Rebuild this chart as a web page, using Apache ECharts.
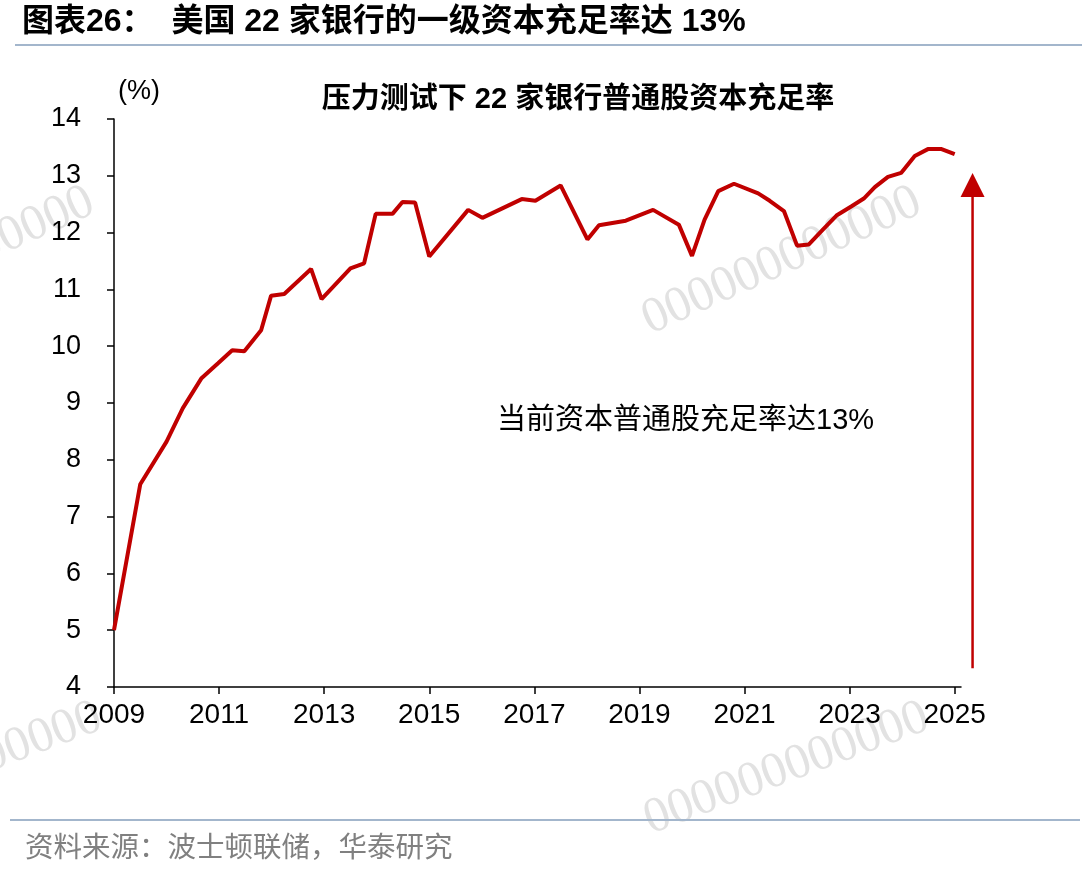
<!DOCTYPE html>
<html>
<head>
<meta charset="utf-8">
<script src="https://cdn.jsdelivr.net/npm/echarts@6/dist/echarts.min.js"></script>
<style>
  html, body { margin: 0; padding: 0; background: #fff; }
  #chart { width: 1091px; height: 875px; }
</style>
</head>
<body>
<div id="chart"></div>
<script>
// CET1 ratio of the 22 stress-tested banks (%)
const years = [
  2009.0, 2009.5, 2010.0, 2010.31, 2010.66, 2010.98, 2011.25, 2011.48, 2011.8, 2011.99,
  2012.24, 2012.75, 2012.95, 2013.5, 2013.76, 2013.98, 2014.3, 2014.49, 2014.73, 2015.0,
  2015.74, 2016.01, 2016.76, 2017.02, 2017.5, 2018.01, 2018.23, 2018.74, 2019.26, 2019.75,
  2020.0, 2020.24, 2020.5, 2020.8, 2021.26, 2021.48, 2021.75, 2022.0, 2022.22, 2022.5,
  2022.75, 2023.03, 2023.27, 2023.48, 2023.73, 2023.98, 2024.24, 2024.49, 2024.75, 2025.0
];
const ratios = [
  5.0, 7.57, 8.32, 8.91, 9.43, 9.7, 9.93, 9.91, 10.28, 10.89,
  10.92, 11.36, 10.83, 11.37, 11.46, 12.33, 12.33, 12.54, 12.53, 11.58,
  12.4, 12.26, 12.59, 12.56, 12.83, 11.88, 12.13, 12.21, 12.4, 12.14,
  11.59, 12.23, 12.73, 12.86, 12.69, 12.56, 12.38, 11.77, 11.79, 12.06,
  12.3, 12.46, 12.6, 12.8, 12.98, 13.05, 13.35, 13.47, 13.47, 13.38
];
const yearTicks = [2009, 2011, 2013, 2015, 2017, 2019, 2021, 2023, 2025];

// the upward arrow right of the line: [year, value] for tail and tip
const arrowTail = [2025.34, 4.33];
const arrowTip = [2025.34, 13.05];

const headerText = '图表26：  美国 22 家银行的一级资本充足率达 13%';
const titleText = '压力测试下 22 家银行普通股资本充足率';
const noteText = '当前资本普通股充足率达13%';
const sourceText = '资料来源：波士顿联储，华泰研究';
const unitText = '(%)';

const RED = '#c00000';
const FONT = '"Liberation Sans", Arial, "Noto Sans CJK SC", sans-serif';

const chart = echarts.init(document.getElementById('chart'));

function watermark(x, y, rotation) {
  return {
    type: 'text',
    x: x,
    y: y,
    rotation: rotation,
    silent: true,
    style: {
      text: '000000000000',
      font: '50px "Liberation Serif", serif',
      fill: '#e2e2e2',
      verticalAlign: 'bottom'
    }
  };
}

const staticGraphics = [
  watermark(655, 345, 0.42),
  watermark(-172, 345, 0.42),
  watermark(655, 845, 0.36),
  watermark(-172, 845, 0.36),
  {
    type: 'text',
    left: 22,
    top: 6,
    style: {
      text: headerText,
      font: 'bold 32px "Liberation Sans", "Noto Sans CJK SC", sans-serif',
      fill: '#000'
    }
  },
  {
    type: 'line',
    shape: { x1: 15, y1: 45, x2: 1082, y2: 45 },
    style: { stroke: '#a3b6cc', lineWidth: 2 }
  },
  {
    type: 'text',
    x: 578,
    y: 100,
    style: {
      text: titleText,
      font: 'bold 29px "Liberation Sans", "Noto Sans CJK SC", sans-serif',
      fill: '#000',
      align: 'center',
      verticalAlign: 'middle'
    }
  },
  {
    type: 'text',
    x: 118,
    y: 92,
    style: {
      text: unitText,
      font: '27px "Liberation Sans", sans-serif',
      fill: '#000',
      verticalAlign: 'middle'
    }
  },
  {
    type: 'text',
    x: 497,
    y: 421,
    style: {
      text: noteText,
      font: '29px "Liberation Sans", "Noto Sans CJK SC", sans-serif',
      fill: '#000',
      verticalAlign: 'middle'
    }
  },
  {
    type: 'line',
    shape: { x1: 10, y1: 820, x2: 1080, y2: 820 },
    style: { stroke: '#a3b6cc', lineWidth: 2 }
  },
  {
    type: 'text',
    x: 25,
    y: 846,
    style: {
      text: sourceText,
      font: '28.5px "Noto Sans CJK SC", sans-serif',
      fill: '#808080',
      verticalAlign: 'middle'
    }
  }
];

chart.setOption({
  animation: false,
  textStyle: { fontFamily: FONT },
  grid: {
    left: 114,
    right: 130,
    top: 119,
    bottom: 188,
    outerBoundsMode: 'none'
  },
  xAxis: {
    type: 'value',
    min: 2009,
    max: 2025.12,
    axisLine: { lineStyle: { color: '#000', width: 1.5 } },
    axisTick: {
      customValues: yearTicks,
      length: 7,
      lineStyle: { color: '#000', width: 1.5 }
    },
    axisLabel: {
      customValues: yearTicks,
      formatter: (v) => String(v),
      margin: 14,
      color: '#000',
      fontSize: 28,
      fontFamily: FONT
    },
    splitLine: { show: false }
  },
  yAxis: {
    type: 'value',
    min: 4,
    max: 14,
    interval: 1,
    axisLine: { show: true, lineStyle: { color: '#000', width: 1.5 } },
    axisTick: { show: true, length: 7, lineStyle: { color: '#000', width: 1.5 } },
    axisLabel: {
      margin: 33,
      color: '#000',
      fontSize: 27,
      fontFamily: FONT
    },
    splitLine: { show: false }
  },
  graphic: staticGraphics,
  series: [
    {
      name: '普通股资本充足率',
      type: 'line',
      data: years.map((y, i) => [y, ratios[i]]),
      showSymbol: false,
      lineStyle: { color: RED, width: 4 },
      itemStyle: { color: RED },
      z: 3
    }
  ]
});

// arrow sits outside the x range, so place it through the axis scales
const tail = chart.convertToPixel({ gridIndex: 0 }, arrowTail);
const tip = chart.convertToPixel({ gridIndex: 0 }, arrowTip);
const headH = 24, headW = 24;
chart.setOption({
  graphic: staticGraphics.concat([
    {
      type: 'line',
      shape: { x1: tail[0], y1: tail[1], x2: tip[0], y2: tip[1] + headH },
      style: { stroke: RED, lineWidth: 2.5 },
      z: 10
    },
    {
      type: 'polygon',
      shape: {
        points: [
          [tip[0], tip[1]],
          [tip[0] - headW / 2, tip[1] + headH],
          [tip[0] + headW / 2, tip[1] + headH]
        ]
      },
      style: { fill: RED },
      z: 10
    }
  ])
});
</script>
</body>
</html>
